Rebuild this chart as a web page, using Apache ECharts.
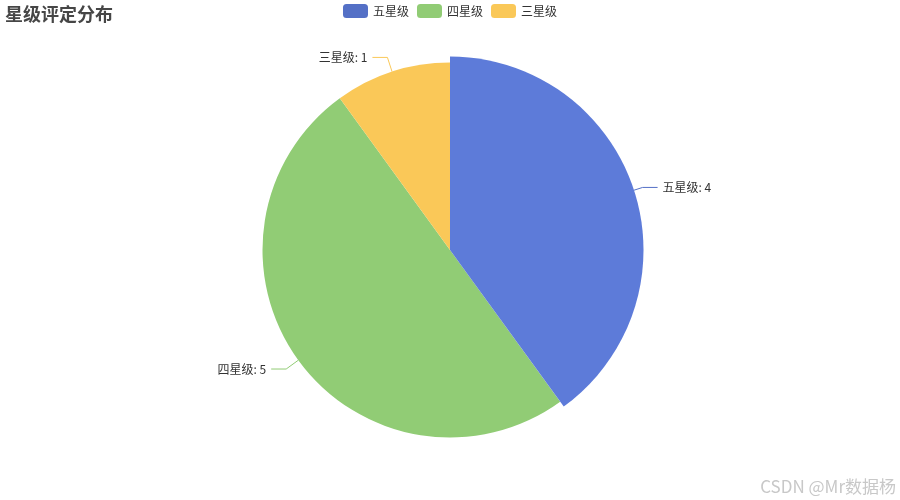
<!DOCTYPE html>
<html>
<head>
<meta charset="utf-8">
<script src="https://cdn.jsdelivr.net/npm/echarts@6/dist/echarts.min.js"></script>
<style>
  html, body { margin: 0; padding: 0; background: #fff; }
  #chart { width: 900px; height: 500px; }
</style>
</head>
<body>
<div id="chart"></div>
<script>
const categories = ["五星级", "四星级", "三星级"];
const counts = [4, 5, 1];
const colors = ["#5470c6", "#91cc75", "#fac858"];

const myChart = echarts.init(document.getElementById("chart"));
const option = {
  animation: false,
  color: colors,
  textStyle: {
    fontFamily: "'Noto Sans CJK SC', 'Microsoft YaHei', sans-serif",
  },
  title: {
    text: "星级评定分布",
    left: 0,
    top: 0,
    textStyle: {
      fontSize: 18,
      fontWeight: "bold",
      color: "#464646",
    },
  },
  legend: {
    top: -1,
    left: "center",
    data: categories,
    textStyle: { color: "#333" },
  },
  series: [
    {
      name: "星级",
      type: "pie",
      radius: "75%",
      center: ["50%", "50%"],
      label: {
        formatter: "{b}: {c}",
        color: "#333",
      },
      labelLine: {
        length: 15,
        length2: 15,
      },
      emphasis: {
        scaleSize: 6,
      },
      data: categories.map((name, i) => ({
        name: name,
        value: counts[i],
        labelLine: { lineStyle: { color: colors[i] } },
        emphasis: i === 0 ? { itemStyle: { color: "#5d7bd9" } } : {},
      })),
    },
  ],
  graphic: [
    {
      type: "text",
      right: 4,
      bottom: 5,
      style: {
        text: "CSDN @Mr数据杨",
        fill: "#c8c8c8",
        fontSize: 17,
        fontFamily: "'Noto Sans CJK SC', sans-serif",
      },
    },
  ],
};
myChart.setOption(option);
myChart.dispatchAction({ type: "highlight", seriesIndex: 0, dataIndex: 0 });
</script>
</body>
</html>
